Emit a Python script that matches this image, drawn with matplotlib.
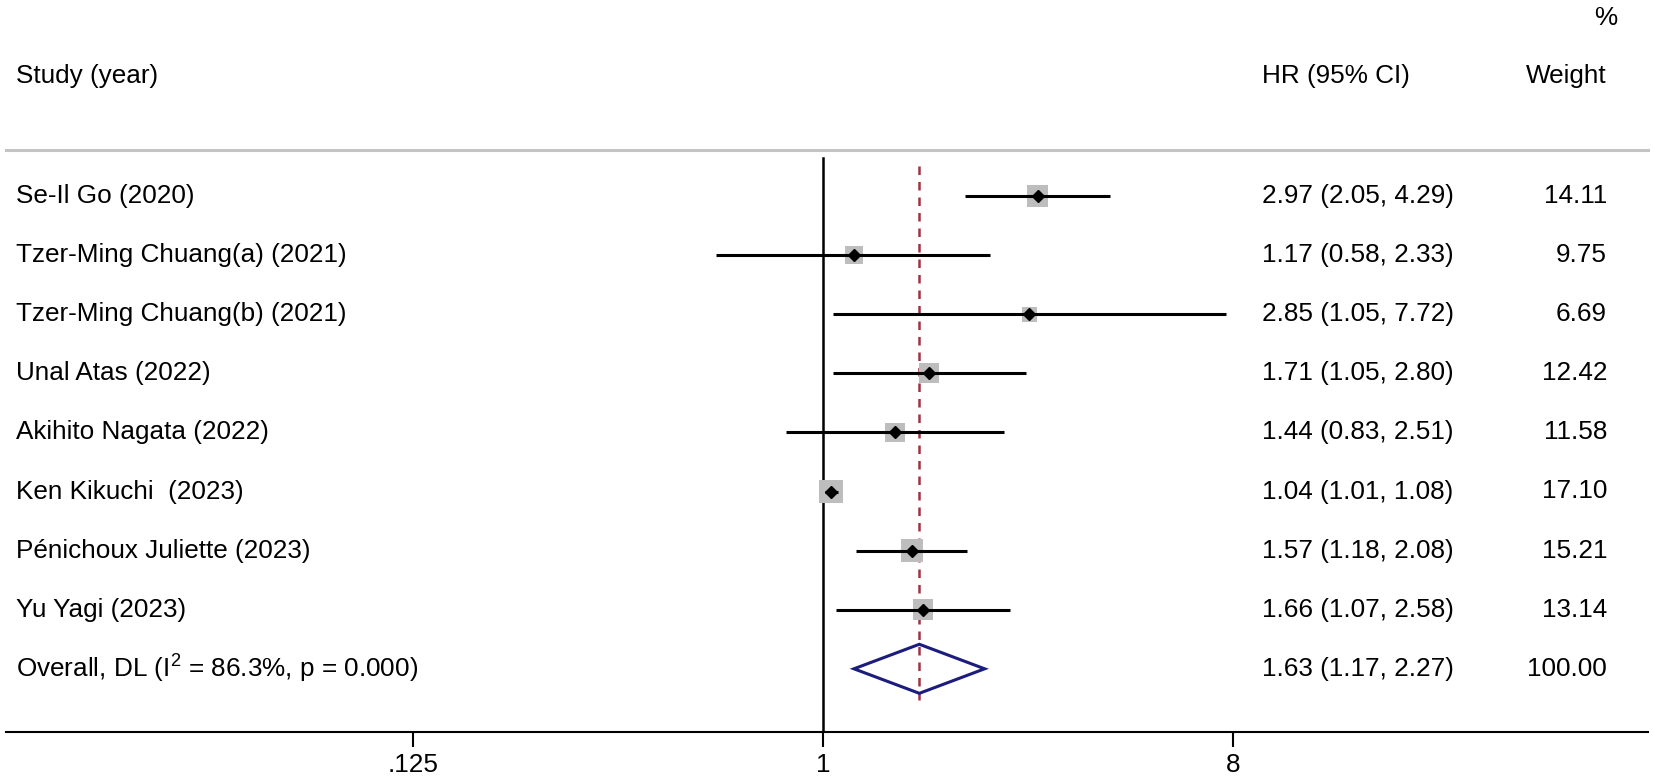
import numpy as np
import matplotlib
matplotlib.use("Agg")
import matplotlib.pyplot as plt
from matplotlib.patches import Polygon

plt.rcParams.update({
    'font.family': ['Liberation Sans', 'DejaVu Sans'],
    'mathtext.fontset': 'custom',
    'mathtext.rm': 'Liberation Sans',
    'mathtext.it': 'Liberation Sans:italic',
    'mathtext.bf': 'Liberation Sans:bold',
})

# ---- data ----
studies = ["Se-Il Go (2020)", "Tzer-Ming Chuang(a) (2021)", "Tzer-Ming Chuang(b) (2021)",
           "Unal Atas (2022)", "Akihito Nagata (2022)", "Ken Kikuchi  (2023)",
           "Pénichoux Juliette (2023)", "Yu Yagi (2023)"]
hr = [2.97, 1.17, 2.85, 1.71, 1.44, 1.04, 1.57, 1.66]
ci_low = [2.05, 0.58, 1.05, 1.05, 0.83, 1.01, 1.18, 1.07]
ci_high = [4.29, 2.33, 7.72, 2.80, 2.51, 1.08, 2.08, 2.58]
weights = [14.11, 9.75, 6.69, 12.42, 11.58, 17.10, 15.21, 13.14]

overall_label = r"Overall, DL (I$^{2}$ = 86.3%, p = 0.000)"
overall_hr = 1.63
overall_low = 1.17
overall_high = 2.27
overall_weight = 100.00

xticks = [0.125, 1, 8]
xtick_labels = [".125", "1", "8"]

# ---- layout (pixels of the 1654x781 output) ----
W, H = 1654, 781
FS = 18.8
ROW0_Y, ROW_STEP = 196, 59.1
AX_LEFT, AX_RIGHT = 6, 1648
AX_TOP, AX_BOTTOM = 150, 732
X_ONE, PX_PER_LOG8 = 823, 410
TEXT_X, HR_X, WEIGHT_X = 16, 1262, 1607

fig = plt.figure(figsize=(W / 100, H / 100), dpi=100)

# text layer in pixel coordinates
tax = fig.add_axes([0, 0, 1, 1])
tax.set_xlim(0, W)
tax.set_ylim(H, 0)
tax.axis('off')

# plot area with log x scale, rows on y
ax = fig.add_axes([AX_LEFT / W, (H - AX_BOTTOM) / H,
                   (AX_RIGHT - AX_LEFT) / W, (AX_BOTTOM - AX_TOP) / H])
ax.patch.set_alpha(0)
ax.set_xscale('log')
ax.set_xlim(8 ** ((AX_LEFT - X_ONE) / PX_PER_LOG8), 8 ** ((AX_RIGHT - X_ONE) / PX_PER_LOG8))
n = len(studies)
ax.set_ylim((AX_BOTTOM - ROW0_Y) / ROW_STEP, (AX_TOP - ROW0_Y) / ROW_STEP)

for s in ['top', 'right', 'left']:
    ax.spines[s].set_visible(False)
ax.spines['bottom'].set_linewidth(1.5)
ax.set_yticks([])
ax.set_xticks(xticks)
ax.set_xticklabels(xtick_labels)
ax.minorticks_off()
ax.tick_params(axis='x', length=11, width=1.5, pad=4, labelsize=FS)

rows = np.arange(n)

# null line and overall dashed line
ax.axvline(1, ymin=0, ymax=(AX_BOTTOM - 158) / (AX_BOTTOM - AX_TOP), color='black', lw=1.8)
ax.plot([overall_hr, overall_hr], [(166 - ROW0_Y) / ROW_STEP, n + 0.52],
        color='#9e3242', lw=1.8, dashes=(3.4, 2.8), zorder=1)

# weight squares, CIs, point estimates
ax.scatter(hr, rows, marker='s', s=np.array(weights) * 16.8, color='#bdbdbd',
           linewidths=0, zorder=2)
ax.hlines(rows, ci_low, ci_high, color='black', lw=2.2, zorder=3)
ax.plot(hr, rows, linestyle='none', marker='D', markersize=6.4, color='black', zorder=4)

# overall diamond
h = 0.415
diamond = Polygon([(overall_low, n), (overall_hr, n - h), (overall_high, n), (overall_hr, n + h)],
                  closed=True, facecolor='none', edgecolor='#1c1c7c', lw=2.2, zorder=3)
ax.add_patch(diamond)

# header
tax.plot([AX_LEFT, AX_RIGHT], [150, 150], color='#c4c4c4', lw=2.2)
tax.text(TEXT_X, 76, "Study (year)", fontsize=FS, ha='left', va='center')
tax.text(HR_X, 76, "HR (95% CI)", fontsize=FS, ha='left', va='center')
tax.text(WEIGHT_X, 76, "Weight", fontsize=FS, ha='right', va='center')
tax.text(WEIGHT_X + 10, 18, "%", fontsize=FS, ha='right', va='center')

# row texts
labels = studies + [overall_label]
hrs = hr + [overall_hr]
lows = ci_low + [overall_low]
highs = ci_high + [overall_high]
wts = weights + [overall_weight]
for i, lab in enumerate(labels):
    y = ROW0_Y + i * ROW_STEP
    tax.text(TEXT_X, y, lab, fontsize=FS, ha='left', va='center')
    tax.text(HR_X, y, f"{hrs[i]:.2f} ({lows[i]:.2f}, {highs[i]:.2f})", fontsize=FS,
             ha='left', va='center')
    tax.text(WEIGHT_X, y, f"{wts[i]:.2f}", fontsize=FS, ha='right', va='center')

fig.savefig("out.png", dpi=100)
